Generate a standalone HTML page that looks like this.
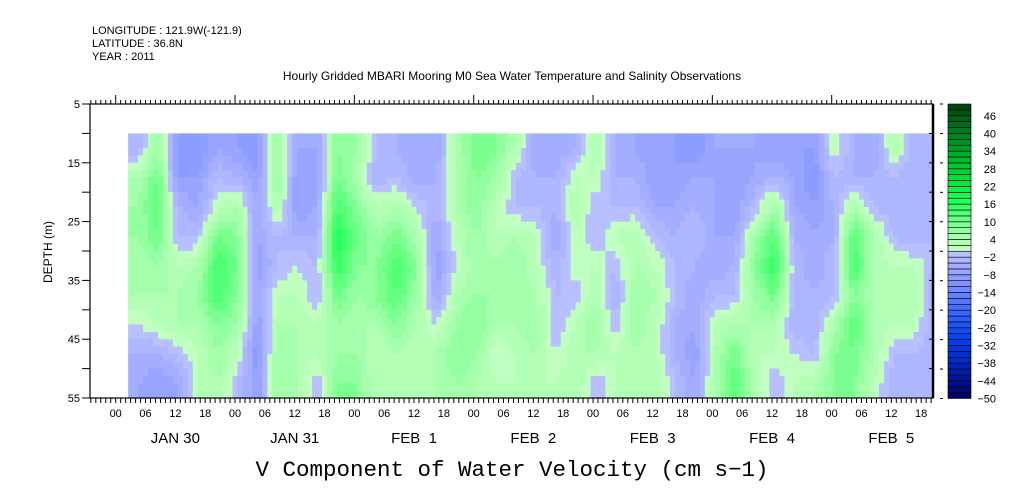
<!DOCTYPE html>
<html><head><meta charset="utf-8">
<style>
html,body{margin:0;padding:0;background:#fff;}
svg{display:block;font-family:"Liberation Sans",sans-serif;}
.pre{white-space:pre;}
</style></head>
<body>
<svg id="chart" width="1009" height="504" viewBox="0 0 1009 504" xmlns="http://www.w3.org/2000/svg">
<g font-size="11" fill="#000">
<text x="92" y="34">LONGITUDE : 121.9W(-121.9)</text>
<text x="92" y="47">LATITUDE : 36.8N</text>
<text x="92" y="60">YEAR : 2011</text>
</g>
<text x="512" y="80" font-size="12" text-anchor="middle">Hourly Gridded MBARI Mooring M0 Sea Water Temperature and Salinity Observations</text>
<g id="heat"></g>
<g id="axes"></g>
<g id="cbar"></g>
<text transform="translate(52,252) rotate(-90)" font-size="12" text-anchor="middle">DEPTH (m)</text>
<text x="512" y="476" font-family="'Liberation Mono',monospace" font-size="22.5" text-anchor="middle">V Component of Water Velocity (cm s−1)</text>
</svg>
<script>
// data: time columns every 4 hours starting hour 2.5 (Jan 30 02:30), depth rows every 5 m from 10 m
const colHours = 4;
const startHour = 2.5;
const endHour = 164;
const depthEdges = [10,15,20,25,30,35,40,45,50,55];
const dayLabels = ["JAN 30","JAN 31","FEB  1","FEB  2","FEB  3","FEB  4","FEB  5"];
const hourLabels = ["00","06","12","18"];
const cbarTicks = [46,40,34,28,22,16,10,4,-2,-8,-14,-20,-26,-32,-38,-44,-50];
const yTicks = [5,15,25,35,45,55];
// values[col] = [r0..r8] (depth 10-15 ... 50-55)
const values = [
[-4,4,6,6,4,4,0,-4,-6],
[6,10,12,10,6,4,2,-4,-8],
[-10,-8,-4,-2,2,4,4,-2,-6],
[-10,-8,-6,-2,4,6,4,2,2],
[-6,-2,2,10,14,14,8,6,4],
[-8,-4,4,8,10,8,6,2,-2],
[-10,-8,-6,-6,-8,-6,-8,-10,-8],
[6,8,4,-2,-2,2,4,6,6],
[-6,-8,-8,-4,0,2,4,4,4],
[-6,-8,-6,-4,-2,-2,2,2,-2],
[8,10,14,18,16,10,6,6,8],
[6,4,8,10,8,6,4,6,8],
[-2,-4,2,6,8,8,4,2,2],
[-4,-2,4,10,14,12,8,4,4],
[-6,-6,0,4,8,6,4,2,2],
[-6,-4,-4,-6,-8,-6,0,4,4],
[4,4,4,2,0,4,6,8,6],
[10,8,8,6,6,6,8,6,4],
[8,6,2,2,4,6,4,0,2],
[4,-2,-2,4,6,6,4,2,2],
[-6,-4,-2,2,2,4,6,4,2],
[-6,-4,-4,-6,-4,-2,-2,0,2],
[-4,2,4,2,2,-2,2,4,4],
[4,2,-2,-2,2,4,6,4,-2],
[-4,-4,-2,2,-2,-4,-2,2,2],
[-6,-4,-2,4,4,6,6,4,2],
[-8,-8,-6,-2,2,4,2,2,4],
[-8,-8,-6,-4,-2,-2,-4,-4,-2],
[-10,-6,-4,-2,-4,-6,-6,-8,-6],
[-6,-6,-6,-6,-6,-2,2,4,4],
[-6,-8,-8,-6,-4,-2,4,10,12],
[-6,-6,-2,6,8,6,4,2,4],
[-8,-4,6,12,16,10,4,2,-2],
[-8,-6,-6,-4,-2,-2,-4,0,2],
[-8,-10,-8,-6,-6,-4,-4,-2,4],
[2,-2,-4,-4,-2,-2,4,8,8],
[-4,-4,4,12,14,8,12,10,8],
[-6,-4,-2,4,4,4,4,4,2],
[4,-2,-4,-2,2,4,2,-2,-4],
[-4,-4,-4,-4,2,4,2,-2,-4],
[-4,-4,-4,-2,-2,-4,-4,-4,-4]
];

const NS="http://www.w3.org/2000/svg";
const PX0=90, PX1=933, PY0=104, PY1=398;
const X0=115.7, DAYPX=119.33;
function xOf(h){return X0+h*DAYPX/24;}
function yOf(d){return PY0+(d-5)*(PY1-PY0)/50;}
function mk(tag,attrs,parent){const e=document.createElementNS(NS,tag);for(const k in attrs)e.setAttribute(k,attrs[k]);parent.appendChild(e);return e;}

const anchors=[[-50,[0,0,96]],[-40,[0,32,176]],[-30,[0,64,240]],[-20,[64,104,255]],[-10,[136,152,255]],[-1,[184,192,255]],[1,[192,255,192]],[6,[160,255,168]],[10,[112,255,136]],[16,[48,255,96]],[22,[0,240,64]],[30,[0,192,48]],[40,[0,128,32]],[50,[0,64,16]]];
function colorOf(v){
  let q=Math.floor(v/2)*2+1;
  q=Math.max(-49,Math.min(49,q));
  for(let i=0;i<anchors.length-1;i++){
    const a=anchors[i],b=anchors[i+1];
    if(q>=a[0]&&q<=b[0]){const t=(q-a[0])/(b[0]-a[0]);
      const c=a[1].map((x,j)=>Math.round(x+(b[1][j]-x)*t));return `rgb(${c[0]},${c[1]},${c[2]})`;}
  }
  return "#fff";
}

const heat=document.getElementById('heat');
const nC=values.length, nR=depthEdges.length-1, SUB=4;
function sample(ci,ri){ci=Math.max(0,Math.min(nC-1,ci));ri=Math.max(0,Math.min(nR-1,ri));return values[ci][ri];}
function interp(c,r){const c0=Math.floor(c),r0=Math.floor(r),fc=c-c0,fr=r-r0;
  return sample(c0,r0)*(1-fc)*(1-fr)+sample(c0+1,r0)*fc*(1-fr)+sample(c0,r0+1)*(1-fc)*fr+sample(c0+1,r0+1)*fc*fr;}
for(let c=0;c<nC;c++){
  for(let r=0;r<nR;r++){
    for(let sc=0;sc<SUB;sc++){
      const h0=startHour+(c+sc/SUB)*colHours, h1=Math.min(endHour,h0+colHours/SUB);
      if(h0>=endHour)continue;
      for(let sr=0;sr<SUB;sr++){
        const d0=depthEdges[r]+(depthEdges[r+1]-depthEdges[r])*sr/SUB, d1=d0+(depthEdges[r+1]-depthEdges[r])/SUB;
        const v=interp(c+(sc+0.5)/SUB-0.5,r+(sr+0.5)/SUB-0.5);
        const x0=xOf(h0),x1=xOf(h1),y0=yOf(d0),y1=yOf(d1);
        const rc=mk('rect',{x:x0.toFixed(2),y:y0.toFixed(2),width:(x1-x0+0.6).toFixed(2),height:(y1-y0+0.6).toFixed(2),fill:colorOf(v)},heat);
        
        
      }
    }
  }
}

const ax=document.getElementById('axes');
const fr=mk('rect',{x:PX0,y:PY0,width:PX1-PX0,height:PY1-PY0,fill:'none',stroke:'#000','stroke-width':1.2},ax);


mk('line',{x1:PX1,y1:PY0,x2:PX1,y2:PY1,stroke:'#000','stroke-width':2.5},ax);
for(let h=-5;h<=164;h++){
  const x=xOf(h); if(x<PX0||x>PX1)continue;
  const major=((h%24)+24)%24===0;
  mk('line',{x1:x,y1:PY1,x2:x,y2:PY1+5,stroke:'#000','stroke-width':1},ax);
  mk('line',{x1:x,y1:PY0,x2:x,y2:PY0-(major?9:4),stroke:'#000','stroke-width':1},ax);
  if(h%6===0){
    const t=mk('text',{x:x,y:PY1+19,'font-size':11,'text-anchor':'middle'},ax);
    t.textContent=hourLabels[((h%24)+24)%24/6];
    
    
  }
}
dayLabels.forEach((lab,i)=>{
  const t=mk('text',{x:xOf(i*24+12),y:PY1+45,'font-size':15,'text-anchor':'middle','class':'pre'},ax);
  t.textContent=lab;
  
  
});
for(let d=5;d<=55;d+=5){
  const y=yOf(d);
  mk('line',{x1:PX0-8,y1:y,x2:PX0,y2:y,stroke:'#000','stroke-width':1},ax);
  mk('line',{x1:PX1-4,y1:y,x2:PX1,y2:y,stroke:'#000','stroke-width':1},ax);
}
yTicks.forEach(d=>{
  const t=mk('text',{x:PX0-10,y:yOf(d)+4,'font-size':11,'text-anchor':'end'},ax);
  t.textContent=d;
  
  
});

const cb=document.getElementById('cbar');
const CX=948,CW=23,CY0=104,CY1=398.5;
function cy(v){return CY1-(v+50)*(CY1-CY0)/100;}
for(let v=-50;v<50;v+=2){
  const b=mk('rect',{x:CX,y:cy(v+2).toFixed(2),width:CW,height:(cy(v)-cy(v+2)).toFixed(2),fill:colorOf(v+1),stroke:'#000','stroke-width':0.6},cb);
  
  
}
for(let v=-50;v<=50;v+=10){mk('line',{x1:940,y1:cy(v),x2:943,y2:cy(v),stroke:'#000','stroke-width':1},cb);}
cbarTicks.forEach(v=>{
  const t=mk('text',{x:996,y:cy(v)+4,'font-size':11,'text-anchor':'end'},cb);
  t.textContent=v<0?'−'+(-v):String(v);
  
  
});
</script>
</body></html>
